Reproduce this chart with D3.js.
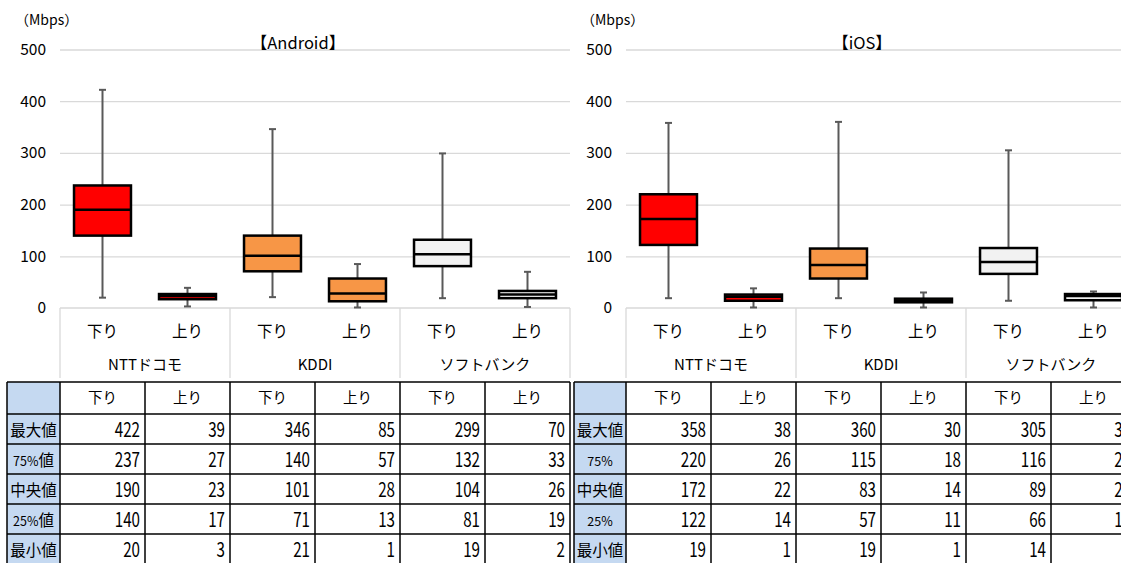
<!DOCTYPE html>
<html><head><meta charset="utf-8">
<script src="https://cdn.jsdelivr.net/npm/d3@7"></script>
<style>
html,body{margin:0;padding:0;background:#fff;}
svg{display:block;}
text{font-family:"Noto Sans CJK JP","Noto Sans",sans-serif;fill:#000;}
</style></head>
<body>
<svg id="chart" width="1121" height="563"></svg>
<script>
// ---- data ----
const carriers = ["NTTドコモ", "KDDI", "ソフトバンク"];
const directions = ["下り", "上り"];
const carrierColors = ["#ff0000", "#f79646", "#f2f2f2"];
const yTicks = [0, 100, 200, 300, 400, 500];
const androidStatLabels = ["最大値", "75%値", "中央値", "25%値", "最小値"];
const iosStatLabels = ["最大値", "75%", "中央値", "25%", "最小値"];

// order per carrier: 下り, 上り
const androidMax = [422, 39, 346, 85, 299, 70];
const androidQ3  = [237, 27, 140, 57, 132, 33];
const androidMed = [190, 23, 101, 28, 104, 26];
const androidQ1  = [140, 17, 71, 13, 81, 19];
const androidMin = [20, 3, 21, 1, 19, 2];

const iosMax = [358, 38, 360, 30, 305, 32];
const iosQ3  = [220, 26, 115, 18, 116, 27];
const iosMed = [172, 22, 83, 14, 89, 23];
const iosQ1  = [122, 14, 57, 11, 66, 15];
const iosMin = [19, 1, 19, 1, 14, 1];

const svg = d3.select("#chart");

function drawPanel(opt) {
  const keys = [];
  carriers.forEach(c => directions.forEach(d => keys.push(c + "|" + d)));
  const x = d3.scaleBand().domain(keys).range([opt.left, opt.right]).paddingInner(0.33).paddingOuter(0.165);
  const y = d3.scaleLinear().domain([0, 500]).range([308, 49.5]);
  const g = svg.append("g");
  const step = x.step();

  // gridlines
  g.append("g").attr("transform", `translate(${opt.left},0)`)
    .call(d3.axisLeft(y).tickValues(yTicks.filter(t => t > 0)).tickSize(-(opt.right - opt.left)).tickFormat(""))
    .call(s => s.select(".domain").remove())
    .call(s => s.selectAll("line").attr("stroke", "#d9d9d9").attr("stroke-width", 1.3));

  // y labels
  g.append("g").attr("transform", `translate(${opt.left - 14},0)`)
    .call(d3.axisLeft(y).tickValues(yTicks).tickSize(0).tickPadding(0))
    .call(s => s.select(".domain").remove())
    .call(s => s.selectAll("text").attr("font-size", 15.5).attr("font-family", '"Noto Sans CJK JP",sans-serif').attr("fill", "#000"));

  // unit
  g.append("text").attr("x", opt.left - 45).attr("y", 25).attr("font-size", 14).text("（Mbps）");
  // title
  g.append("text").attr("x", opt.titleX).attr("y", 49).attr("text-anchor", "middle").attr("font-size", 16.5).text(opt.title);

  // x axis baseline and category separators
  g.append("line").attr("x1", opt.left).attr("x2", opt.right).attr("y1", y(0)).attr("y2", y(0))
    .attr("stroke", "#d9d9d9").attr("stroke-width", 1.5);
  for (let i = 0; i <= carriers.length; i++) {
    const xx = opt.left + i * step * 2;
    g.append("line").attr("x1", xx).attr("x2", xx).attr("y1", y(0)).attr("y2", 378)
      .attr("stroke", "#d9d9d9").attr("stroke-width", 1.3);
  }
  keys.forEach((k, i) => {
    g.append("text").attr("x", x(k) + x.bandwidth() / 2).attr("y", 337)
      .attr("text-anchor", "middle").attr("font-size", 15.5).text(k.split("|")[1]);
  });
  carriers.forEach((c, i) => {
    g.append("text").attr("x", opt.left + step * (2 * i + 1)).attr("y", 370)
      .attr("text-anchor", "middle").attr("font-size", 15).text(c);
  });

  // boxes
  const data = keys.map((k, i) => ({
    key: k, ci: Math.floor(i / 2),
    max: opt.max[i], q3: opt.q3[i], med: opt.med[i], q1: opt.q1[i], min: opt.min[i]
  }));
  const bx = g.selectAll(".box").data(data).join("g");
  const cx = d => x(d.key) + x.bandwidth() / 2;
  bx.append("line").attr("x1", cx).attr("x2", cx).attr("y1", d => y(d.max)).attr("y2", d => y(d.min))
    .attr("stroke", "#595959").attr("stroke-width", 2);
  bx.append("line").attr("x1", d => cx(d) - 3.5).attr("x2", d => cx(d) + 3.5).attr("y1", d => y(d.max)).attr("y2", d => y(d.max))
    .attr("stroke", "#595959").attr("stroke-width", 2);
  bx.append("line").attr("x1", d => cx(d) - 3.5).attr("x2", d => cx(d) + 3.5).attr("y1", d => y(d.min)).attr("y2", d => y(d.min))
    .attr("stroke", "#595959").attr("stroke-width", 2);
  bx.append("rect").attr("x", d => x(d.key)).attr("width", x.bandwidth())
    .attr("y", d => y(d.q3)).attr("height", d => y(d.q1) - y(d.q3))
    .attr("fill", d => carrierColors[d.ci]).attr("stroke", "#000").attr("stroke-width", 2.5);
  bx.append("line").attr("x1", d => x(d.key)).attr("x2", d => x(d.key) + x.bandwidth())
    .attr("y1", d => y(d.med)).attr("y2", d => y(d.med)).attr("stroke", "#000").attr("stroke-width", 2.5);

  // table
  const top = 382, headH = 32, rowH = 30;
  const t = g.append("g");
  const colEdges = d3.range(keys.length + 1).map(i => opt.left + i * step);
  const tableRight = colEdges[colEdges.length - 1];
  t.append("rect").attr("x", opt.labelLeft).attr("y", top).attr("width", opt.left - opt.labelLeft)
    .attr("height", headH + rowH * 5).attr("fill", "#c5d9f1");
  const rowEdges = [top, top + headH].concat(d3.range(1, 6).map(i => top + headH + i * rowH));
  rowEdges.forEach(yy => t.append("line").attr("x1", opt.labelLeft).attr("x2", tableRight).attr("y1", yy).attr("y2", yy)
    .attr("stroke", "#000").attr("stroke-width", 1.5));
  [opt.labelLeft].concat(colEdges).forEach(xx => t.append("line").attr("x1", xx).attr("x2", xx)
    .attr("y1", top).attr("y2", rowEdges[rowEdges.length - 1]).attr("stroke", "#000").attr("stroke-width", 1.5));
  keys.forEach((k, i) => {
    t.append("text").attr("x", colEdges[i] + step / 2).attr("y", top + headH / 2 + 5)
      .attr("text-anchor", "middle").attr("font-size", 14.5).text(k.split("|")[1]);
  });
  const stats = [opt.max, opt.q3, opt.med, opt.q1, opt.min];
  opt.statLabels.forEach((lab, r) => {
    const cy = top + headH + r * rowH + rowH / 2 + 1;
    const lt = t.append("text").attr("x", (opt.labelLeft + opt.left) / 2).attr("y", cy + 5.5)
      .attr("text-anchor", "middle").attr("font-size", 15.5);
    const m = lab.match(/^(\d+%)(.*)$/);
    if (m) {
      lt.append("tspan").attr("font-size", 12.5).text(m[1]);
      if (m[2]) lt.append("tspan").text(m[2]);
    } else lt.text(lab);
    stats[r].forEach((v, i) => {
      t.append("text").attr("transform", `translate(${colEdges[i + 1] - 5},${cy + 6.5}) scale(0.76,1)`)
        .attr("text-anchor", "end").attr("font-size", 20)
        .attr("font-family", '"Liberation Sans",Arial,sans-serif').text(v);
    });
  });
}

drawPanel({
  left: 60, right: 570, labelLeft: 7, title: "【Android】", titleX: 298,
  statLabels: androidStatLabels,
  max: androidMax, q3: androidQ3, med: androidMed, q1: androidQ1, min: androidMin
});
drawPanel({
  left: 626, right: 1136, labelLeft: 574, title: "【iOS】", titleX: 862,
  statLabels: iosStatLabels,
  max: iosMax, q3: iosQ3, med: iosMed, q1: iosQ1, min: iosMin
});
</script>
</body></html>
